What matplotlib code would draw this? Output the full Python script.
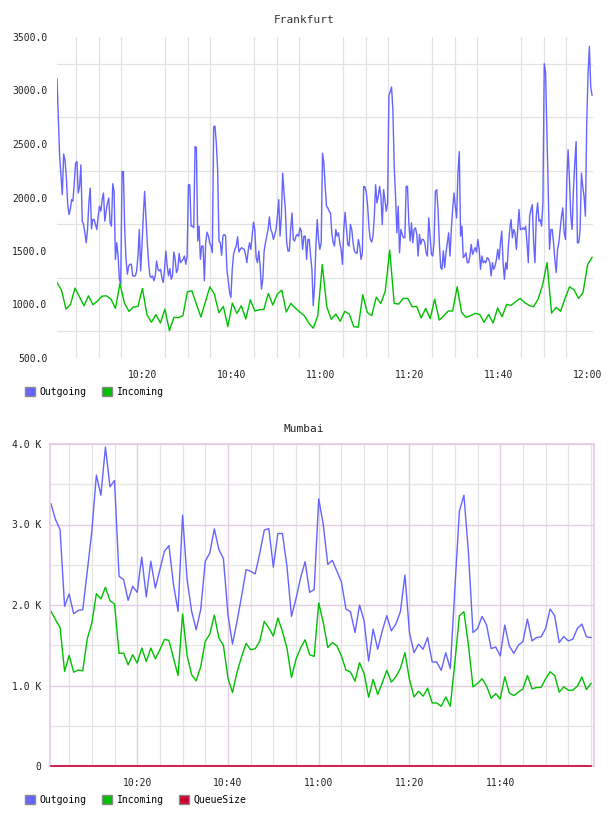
import matplotlib
matplotlib.use('Agg')
import matplotlib.pyplot as plt
import matplotlib.dates as mdates
from matplotlib.patches import Patch
from matplotlib.ticker import FuncFormatter, FixedLocator, MultipleLocator
import pandas as pd

plt.rcParams['font.family'] = ['DejaVu Sans Mono', 'DejaVu Sans']
plt.rcParams['font.size'] = 7

# ---- Frankfurt: values ----
fra_start, fra_end = '2020-01-01 10:00:40', '2020-01-01 12:00:54'

fra_outgoing = [
    3111, 2754, 2383, 2197, 2026, 2407, 2352, 2197, 1949, 1841, 1887, 1980, 1965, 2135, 2321, 2336,
    2042, 2104, 2305, 1779, 1748, 1670, 1577, 1701, 1949, 2088, 1707, 1794, 1794, 1748, 1701, 1825,
    1918, 1872, 1980, 2042, 1779, 1872, 1949, 1995, 1763, 1732, 2129, 2057, 1422, 1577, 1453, 1236,
    1190, 2243, 2243, 1701, 1422, 1283, 1360, 1376, 1376, 1267, 1267, 1267, 1314, 1453, 1701, 1314,
    1546, 1825, 2057, 1825, 1577, 1391, 1267, 1252, 1267, 1221, 1267, 1407, 1329, 1314, 1329, 1252,
    1205, 1329, 1500, 1360, 1267, 1335, 1236, 1267, 1490, 1422, 1298, 1329, 1478, 1391, 1407, 1422,
    1453, 1376, 1453, 2119, 2119, 1732, 1732, 1717, 2476, 2469, 1593, 1732, 1422, 1546, 1546, 1221,
    1577, 1676, 1645, 1577, 1546, 1484, 2661, 2667, 2507, 2259, 1593, 1577, 1460, 1639, 1655, 1639,
    1329, 1221, 1113, 1066, 1329, 1469, 1515,
    1546, 1633, 1490, 1515, 1531, 1521, 1515, 1469, 1391, 1500, 1577, 1515, 1639, 1769, 1701, 1438,
    1391, 1500, 1360, 1144, 1236, 1500, 1577, 1639, 1701, 1819, 1701, 1670, 1608, 1655, 1701, 1825,
    1980, 1639, 1825, 2228, 2042, 1887, 1577, 1500, 1500, 1701, 1856, 1608, 1593, 1639, 1655, 1639,
    1717, 1686, 1515, 1639, 1639, 1422, 1608, 1608, 1453, 1329, 989, 1174, 1546, 1794, 1608, 1515,
    1577, 2414, 2321, 2104, 1918, 1903, 1872, 1856, 1670, 1577, 1546, 1701, 1639, 1670, 1577, 1515,
    1376, 1701, 1862, 1717, 1562, 1546, 1748, 1701, 1577, 1500, 1484, 1478, 1608, 1546, 1422, 1484,
    2104, 2098, 2042, 1918, 1717, 1608, 1583, 1639, 1825, 2119, 1949, 2011, 2104, 2011, 1748, 2073,
    1980, 1872, 1949, 2956, 2987, 3033, 2816, 2290, 2011, 1670, 1918, 1484, 1701, 1655, 1624, 1624,
    2104, 2104, 1763, 1593, 1763, 1577, 1701, 1717,
    1655, 1453, 1655, 1562, 1608, 1608, 1577, 1484, 1453, 1809, 1639, 1469, 1453, 1577, 2057, 2073,
    1887, 1577, 1345, 1329, 1500, 1345, 1484, 1577, 1670, 1453, 1701, 1887, 2042, 1918, 1809, 2228,
    2429, 1639, 1732, 1438, 1453, 1484, 1391, 1391, 1453, 1562, 1469, 1500, 1531, 1490, 1608, 1515,
    1329, 1453, 1391, 1407, 1391, 1438, 1428, 1391, 1267, 1391, 1329, 1360, 1422, 1515, 1422, 1577,
    1686, 1391, 1236, 1391, 1329, 1546, 1701, 1794, 1624, 1701, 1670, 1515, 1701, 1887, 1701, 1701,
    1717, 1701, 1732, 1577, 1391, 1825, 1887, 1933, 1577, 1391, 1825, 1949, 1779, 1794, 1732, 1949,
    3250, 3173, 2630, 2073, 1515, 1701, 1701, 1577, 1422, 1298, 1515, 1577, 1701, 1825, 1903, 1670,
    1608, 2166, 2445, 2166, 1825, 1701, 2073, 2321, 2522, 1577, 1577, 1701, 2228, 2104, 2011, 1825,
    2692, 3157, 3411, 3033, 2956,
]

fra_incoming = [
    1205, 1134, 957, 1001, 1153, 1072, 988, 1081, 998, 1032, 1078, 1081, 1050, 964, 1196, 1013,
    936, 976, 982, 1150, 905, 834, 905, 827, 957, 756, 880, 877, 896, 1119, 1128, 1004, 883, 1026,
    1165, 1097, 923, 982, 793, 1013,
    917, 988, 865, 1044, 939, 951, 954, 1103, 995, 1097, 1134, 930, 1010, 967, 930, 896, 827, 778,
    896, 1373, 979, 861, 911, 843, 936, 911, 793, 787, 1091, 927, 896, 1069, 1010, 1122, 1509, 1010,
    1004, 1057, 1057, 979,
    982, 874, 964, 868, 1050, 855, 893, 939, 939, 1165, 923, 880, 896, 917, 908, 834, 908, 827, 967,
    886, 1001, 992, 1026, 1057, 1019, 992, 979, 1050, 1181, 1391, 920, 973, 936, 1057, 1165, 1137,
    1057, 1112, 1370, 1441,
]

# ---- Mumbai: one value per minute, 10:01 .. 12:00 ----
mum_start = '2020-01-01 10:01:00'

mum_outgoing = [
    3257, 3062, 2937, 1983, 2137, 1892, 1933, 1942, 2419, 2917, 3614, 3365, 3962, 3469, 3547, 2357,
    2315, 2058, 2232, 2157, 2597, 2099, 2543, 2211, 2440, 2668, 2738, 2253, 1921, 3116, 2315, 1921,
    1693, 1942, 2543, 2647, 2946, 2689, 2577, 1880, 1514, 1797, 2108, 2440, 2419, 2386, 2639, 2929,
    2950, 2469, 2888, 2888, 2481, 1859, 2079, 2336, 2539, 2157, 2191, 3319,
    3000, 2504, 2554, 2421, 2285, 1950, 1917, 1658, 2000, 1804, 1304, 1700, 1450, 1679, 1867, 1679,
    1763, 1917, 2372, 1658, 1408, 1513, 1450, 1596, 1292, 1292, 1188, 1408, 1208, 2200, 3165, 3364,
    2649, 1658, 1708, 1858, 1750, 1458, 1479, 1367, 1750, 1492, 1400, 1500, 1546, 1825, 1554, 1596,
    1604, 1708, 1950, 1867, 1533, 1608, 1554, 1575, 1708, 1763, 1604, 1596,
]

mum_incoming = [
    1921, 1817, 1722, 1174, 1373, 1166, 1191, 1182, 1581, 1776, 2141, 2075, 2220, 2054, 2012, 1398,
    1402, 1257, 1382, 1278, 1465, 1299, 1465, 1332, 1444, 1572, 1560, 1340, 1124, 1888, 1369, 1133,
    1058, 1236, 1548, 1639, 1875, 1589, 1498, 1091, 913, 1166, 1357, 1523, 1444, 1456, 1548, 1797,
    1714, 1614, 1838, 1672, 1465, 1099, 1328, 1465, 1568, 1382, 1361, 2025,
    1783, 1471, 1533, 1492, 1367, 1192, 1167, 1054, 1283, 1150, 854, 1075, 888, 1033, 1188, 1042,
    1108, 1213, 1408, 1075, 858, 929, 867, 967, 783, 783, 742, 858, 742, 1283, 1867, 1917, 1500,
    983, 1025, 1083, 992, 842, 900, 833, 1108, 908, 875, 917, 958, 1125, 958, 975, 975, 1083, 1171,
    1125, 917, 983, 942, 942, 992, 1104, 950, 1025,
]

mum_queue = [0] * len(mum_outgoing)

tick_labels = ['10:20', '10:40', '11:00', '11:20', '11:40', '12:00']

c_out = '#6464ff'
c_in = '#00c000'
c_queue = '#cc0033'
txt = '#222222'

fra_t_out = pd.date_range(fra_start, fra_end, periods=len(fra_outgoing))
fra_t_in = pd.date_range(fra_start, fra_end, periods=len(fra_incoming))
mum_t = pd.date_range(mum_start, periods=len(mum_outgoing), freq='1min')
day = '2020-01-01 '
ticks = [pd.Timestamp(day + s) for s in tick_labels]

fig = plt.figure(figsize=(6.08, 8.16), dpi=100)

# ---------------- Frankfurt ----------------
ax1 = fig.add_axes([57 / 608, 1 - 358 / 816, 536 / 608, 321 / 816])
ax1.plot(fra_t_out, fra_outgoing, color=c_out, lw=1.0)
ax1.plot(fra_t_in, fra_incoming, color=c_in, lw=1.0)
ax1.set_xlim(pd.Timestamp(day + '10:00:40'), pd.Timestamp(day + '12:01:07'))
ax1.set_ylim(500, 3500)
ax1.xaxis.set_major_locator(FixedLocator(mdates.date2num(ticks)))
ax1.xaxis.set_major_formatter(mdates.DateFormatter('%H:%M'))
ax1.xaxis.set_minor_locator(mdates.MinuteLocator(byminute=range(0, 60, 5)))
ax1.yaxis.set_major_locator(MultipleLocator(500))
ax1.yaxis.set_minor_locator(FixedLocator([750, 1250, 1750, 2250, 2750, 3250]))
ax1.yaxis.set_major_formatter(FuncFormatter(lambda v, p: f'{v:.1f}'))
ax1.grid(which='minor', color='#e2e2e2', lw=0.9)
ax1.set_axisbelow(True)
for s in ax1.spines.values():
    s.set_visible(False)
ax1.tick_params(which='both', length=0, colors=txt, labelsize=7)
ax1.tick_params(axis='y', pad=7)
ax1.tick_params(axis='x', pad=9)
fig.text(304 / 608, 1 - 20 / 816, 'Frankfurt', ha='center', va='center', fontsize=8, color='#333333')

fig.legend(handles=[Patch(facecolor=c_out, edgecolor='#8a8a8a', lw=1),
                    Patch(facecolor=c_in, edgecolor='#8a8a8a', lw=1)],
           labels=['Outgoing', 'Incoming'], loc='center left',
           bbox_to_anchor=(25 / 608, 1 - 392 / 816), ncol=2, frameon=False,
           handlelength=1.0, handleheight=1.0, handletextpad=0.5, columnspacing=1.6,
           borderpad=0, borderaxespad=0, fontsize=7)

# ---------------- Mumbai ----------------
ax2 = fig.add_axes([50 / 608, 1 - 766 / 816, 544 / 608, 322 / 816])
ax2.plot(mum_t, mum_outgoing, color=c_out, lw=1.0)
ax2.plot(mum_t, mum_incoming, color=c_in, lw=1.0)
ax2.plot(mum_t, mum_queue, color=c_queue, lw=1.2, clip_on=False, zorder=5)
ax2.set_xlim(pd.Timestamp(day + '10:00:47'), pd.Timestamp(day + '12:00:40'))
ax2.set_ylim(0, 4000)
ax2.xaxis.set_major_locator(FixedLocator(mdates.date2num(ticks[:-1])))
ax2.xaxis.set_major_formatter(mdates.DateFormatter('%H:%M'))
ax2.xaxis.set_minor_locator(mdates.MinuteLocator(byminute=range(0, 60, 5)))
ax2.yaxis.set_major_locator(MultipleLocator(1000))
ax2.yaxis.set_minor_locator(MultipleLocator(500))
ax2.yaxis.set_major_formatter(FuncFormatter(lambda v, p: '0' if v == 0 else f'{v / 1000:.1f} K'))
ax2.grid(which='minor', color='#e4e4e4', lw=0.9)
ax2.grid(which='major', color='#e4cce4', lw=1.0)
ax2.set_axisbelow(True)
for s in ax2.spines.values():
    s.set_color('#e4cce4')
    s.set_linewidth(1.2)
ax2.tick_params(which='both', length=0, colors=txt, labelsize=7)
ax2.tick_params(axis='y', pad=6)
ax2.tick_params(axis='x', pad=9)
fig.text(304 / 608, 1 - 429 / 816, 'Mumbai', ha='center', va='center', fontsize=8, color='#222222')

fig.legend(handles=[Patch(facecolor=c_out, edgecolor='#8a8a8a', lw=1),
                    Patch(facecolor=c_in, edgecolor='#8a8a8a', lw=1),
                    Patch(facecolor=c_queue, edgecolor='#8a8a8a', lw=1)],
           labels=['Outgoing', 'Incoming', 'QueueSize'], loc='center left',
           bbox_to_anchor=(25 / 608, 1 - 800 / 816), ncol=3, frameon=False,
           handlelength=1.0, handleheight=1.0, handletextpad=0.5, columnspacing=1.6,
           borderpad=0, borderaxespad=0, fontsize=7)

fig.savefig('out.png', dpi=100)
